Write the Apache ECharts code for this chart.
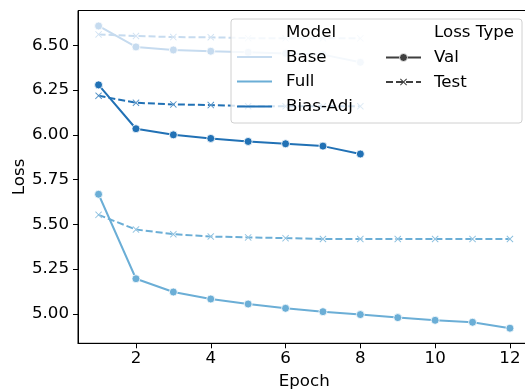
<!DOCTYPE html>
<html>
<head>
<meta charset="utf-8">
<script src="https://cdn.jsdelivr.net/npm/echarts@6/dist/echarts.min.js"></script>
<style>html,body{margin:0;padding:0;background:#fff}#c{width:525px;height:392px}</style>
</head>
<body>
<div id="c"></div>
<script>
const epochs = [1,2,3,4,5,6,7,8,9,10,11,12];
const baseVal  = [6.608,6.491,6.474,6.467,6.461,6.455,6.448,6.405];
const baseTest = [6.561,6.552,6.546,6.545,6.540,6.539,6.539,6.539];
const fullVal  = [5.668,5.196,5.122,5.083,5.055,5.031,5.012,4.996,4.979,4.964,4.953,4.920];
const fullTest = [5.553,5.471,5.445,5.432,5.427,5.423,5.418,5.418,5.418,5.418,5.418,5.418];
const biasVal  = [6.279,6.034,6.000,5.980,5.963,5.950,5.937,5.893];
const biasTest = [6.218,6.179,6.170,6.166,6.160,6.160,6.160,6.160];
const xTicks = [2,4,6,8,10,12];
const yTicks = [5.00,5.25,5.50,5.75,6.00,6.25,6.50];
const models = ['Base','Full','Bias-Adj'];
const lossTypes = ['Val','Test'];
const colors = {'Base':'#c6dbef','Full':'#6baed6','Bias-Adj':'#2171b5'};

const FONT = 'DejaVu Sans';
const FS = 16.67;
const XPATH = 'path://M1,0 L5,4 L9,0 L10,1 L6,5 L10,9 L9,10 L5,6 L1,10 L0,9 L4,5 L0,1 Z';

function mkSeries(model, type, vals){
  const isVal = type === 'Val';
  return {
    name: model + ' ' + type,
    type: 'line',
    data: vals.map((v,i)=>[epochs[i], v]),
    symbol: isVal ? 'circle' : XPATH,
    symbolSize: isVal ? 8 : 7,
    showAllSymbol: true,
    itemStyle: {color: colors[model], borderColor: '#fff', borderWidth: isVal ? 0.8 : 0.4},
    lineStyle: {color: colors[model], width: 2, type: isVal ? 'solid' : [7,3]},
    emphasis: {disabled: true},
    animation: false,
    z: 2
  };
}

const series = [
  mkSeries('Base','Val',baseVal), mkSeries('Base','Test',baseTest),
  mkSeries('Full','Val',fullVal), mkSeries('Full','Test',fullTest),
  mkSeries('Bias-Adj','Val',biasVal), mkSeries('Bias-Adj','Test',biasTest)
];

// legend drawn with graphic elements
const lg = [];
const txt = (x,y,s)=>({type:'text', x:x, y:y, style:{text:s, font:FS+'px "DejaVu Sans"', fill:'#000', verticalAlign:'middle', align:'left'}, z:101});
lg.push({type:'rect', shape:{x:231,y:19,width:291,height:104,r:3}, style:{fill:'rgba(255,255,255,0.8)', stroke:'#d0d0d0', lineWidth:1}, z:100});
lg.push(txt(286,32.5,'Model'));
const rowY = [57,81.5,106.5];
models.forEach((m,i)=>{
  lg.push({type:'line', shape:{x1:237,y1:rowY[i],x2:272,y2:rowY[i]}, style:{stroke:colors[m], lineWidth:2}, z:101});
  lg.push(txt(286,rowY[i]+0.5,m));
});
lg.push(txt(434,32.5,'Loss Type'));
lg.push({type:'line', shape:{x1:386,y1:57.5,x2:421,y2:57.5}, style:{stroke:'#3f3f3f', lineWidth:2}, z:101});
lg.push({type:'circle', shape:{cx:403.5,cy:57.5,r:4}, style:{fill:'#3f3f3f', stroke:'#fff', lineWidth:0.8}, z:102});
lg.push(txt(434,58,lossTypes[0]));
lg.push({type:'line', shape:{x1:386,y1:82,x2:421,y2:82}, style:{stroke:'#3f3f3f', lineWidth:2, lineDash:[7,3]}, z:101});
const xs = [[1,0],[5,4],[9,0],[10,1],[6,5],[10,9],[9,10],[5,6],[1,10],[0,9],[4,5],[0,1]];
lg.push({type:'polygon', shape:{points: xs.map(p=>[400+p[0]*0.7, 78.5+p[1]*0.7])}, style:{fill:'#3f3f3f'}, z:102});
lg.push(txt(434,82.5,lossTypes[1]));

const chart = echarts.init(document.getElementById('c'), null, {renderer:'canvas'});
chart.setOption({
  backgroundColor: '#fff',
  animation: false,
  textStyle: {fontFamily: FONT},
  grid: {left: 78, top: 10.5, right: -5.5, bottom: 48.7, containLabel: false, outerBoundsMode: 'none', show: true, borderColor: '#000', borderWidth: 1, backgroundColor: 'transparent'},
  xAxis: {
    type: 'value', min: 0.45, max: 12.55,
    name: 'Epoch', nameLocation: 'middle', nameGap: 29.5,
    nameTextStyle: {fontSize: FS, color: '#000', fontFamily: FONT},
    splitLine: {show: false},
    axisLine: {show: true, lineStyle: {color: '#000', width: 1}},
    axisTick: {show: true, length: 5, lineStyle: {color: '#000'}, customValues: xTicks},
    axisLabel: {fontSize: FS, color: '#000', margin: 7, fontFamily: FONT, customValues: xTicks, formatter: v => String(v)}
  },
  yAxis: {
    type: 'value', min: 4.8355, max: 6.6945,
    name: 'Loss', nameLocation: 'middle', nameGap: 50, nameRotate: 90, nameMoveOverlap: false,
    nameTextStyle: {fontSize: FS, color: '#000', fontFamily: FONT},
    splitLine: {show: false},
    axisLine: {show: true, lineStyle: {color: '#000', width: 1}},
    axisTick: {show: true, length: 5, lineStyle: {color: '#000'}, customValues: yTicks},
    axisLabel: {fontSize: FS, color: '#000', margin: 9, fontFamily: FONT, customValues: yTicks, formatter: v => v.toFixed(2)}
  },
  series: series,
  graphic: lg
});
</script>
</body>
</html>
